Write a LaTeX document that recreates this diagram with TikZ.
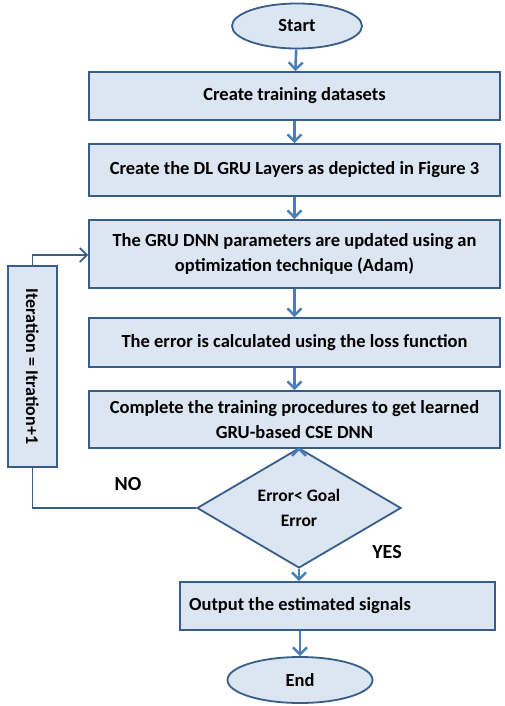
\documentclass[tikz,border=0pt]{standalone}
\usepackage{fontspec}
\setmainfont{Carlito}
\usetikzlibrary{arrows.meta,shapes.geometric}
\definecolor{boxfill}{HTML}{DCE6F2}
\definecolor{boxline}{HTML}{385D8A}
\definecolor{flowline}{HTML}{4A7EBB}
\tikzset{
  stepbox/.style={draw=boxline, fill=boxfill, line width=1.8pt, rectangle,
    inner sep=0pt, font=\fontsize{18.5}{25}\selectfont\bfseries, align=center},
  terminal/.style={draw=boxline, fill=boxfill, line width=1.8pt, ellipse,
    inner sep=0pt, font=\fontsize{18.5}{22}\selectfont\bfseries},
  decision/.style={draw=boxline, fill=boxfill, line width=1.8pt, diamond,
    inner sep=0pt, font=\fontsize{17.5}{25}\selectfont\bfseries, align=center},
  flow/.style={draw=flowline, line width=2.6pt,
    -{Straight Barb[length=7pt, width=14pt, line width=2.4pt]}},
  loopline/.style={draw=boxline, line width=1.8pt},
  loopflow/.style={loopline, -{Straight Barb[length=7pt, width=14pt, line width=1.8pt]}},
  tag/.style={font=\fontsize{20}{24}\selectfont\bfseries}
}
\begin{document}
\begin{tikzpicture}[x=1pt, y=-1pt]
  \useasboundingbox (0,0) rectangle (504,706);

  % terminals
  \node[terminal, minimum width=130, minimum height=45] (start) at (297,26) {Start};
  \node[terminal, minimum width=145, minimum height=46] (end) at (300,680) {End};

  % processing steps
  \node[stepbox, minimum width=411, minimum height=48] (s1) at (294.5,96) {Create training datasets};
  \node[stepbox, minimum width=411, minimum height=52] (s2) at (294.5,170) {Create the DL GRU Layers as depicted in Figure 3};
  \node[stepbox, minimum width=411, minimum height=68] (s3) at (294.5,254) {The GRU DNN parameters are updated using an\\optimization technique (Adam)};
  \node[stepbox, minimum width=411, minimum height=49] (s4) at (294.5,342.5) {The error is calculated using the loss function};
  \node[stepbox, minimum width=411, minimum height=57] (s5) at (294.5,419.5) {Complete the training procedures to get learned\\GRU-based CSE DNN};

  % decision
  \node[decision, minimum width=204, minimum height=86] (dec) at (299,508) {Error< Goal\\Error};

  % output step, text kept on the main axis
  \node[stepbox, minimum width=315, minimum height=48] (out) at (337.5,606) {};
  \node[font=\fontsize{18.5}{22}\selectfont\bfseries] (outtext) at (300,606) {Output the estimated signals};

  % iteration counter
  \node[stepbox, minimum width=49, minimum height=201] (iter) at (32.5,366.5) {};
  \node[rotate=-90, font=\fontsize{18}{22}\selectfont\bfseries] (itertext) at (iter.center) {Iteration = Itration+1};

  % main flow
  \draw[flow] (start) -- (s1);
  \draw[flow] (s1) -- (s2);
  \draw[flow] (s2) -- (s3);
  \draw[flow] (s3) -- (s4);
  \draw[flow] (s4) -- (s5);
  \draw[flow] (s5.south -| dec.north) -- (dec.north);
  \draw[flow] (dec.south) -- (dec.south |- out.north);
  \draw[flow] (outtext.center |- out.south) -- (end.north);

  % feedback loop
  \coordinate (loopup) at (iter.north |- 0,255);
  \draw[loopline] (dec.west) -| (iter.south);
  \draw[loopflow] (iter.north) -- (loopup) -- (loopup -| s3.west);

  % branch labels
  \node[tag] (no) at (128,484) {NO};
  \node[tag] (yes) at (387,552) {YES};
\end{tikzpicture}
\end{document}
